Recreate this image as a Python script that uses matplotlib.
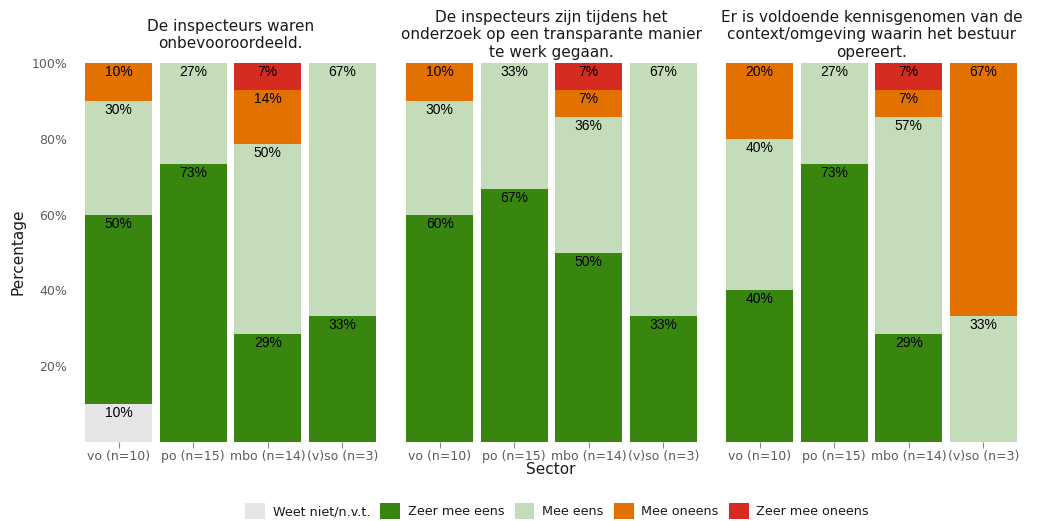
import matplotlib
matplotlib.use('Agg')
import matplotlib.pyplot as plt
from matplotlib.patches import Patch
import numpy as np

# ── Data ───────────────────────────────────────────────────────
sectors = ['vo (n=10)', 'po (n=15)', 'mbo (n=14)', '(v)so (n=3)']
answers = ['Weet niet/n.v.t.', 'Zeer mee eens', 'Mee eens', 'Mee oneens', 'Zeer mee oneens']
colors = ['#e5e5e5', '#388610', '#c4dcba', '#e37100', '#d62b20']

titles = [
    'De inspecteurs waren\nonbevooroordeeld.',
    'De inspecteurs zijn tijdens het\nonderzoek op een transparante manier\nte werk gegaan.',
    'Er is voldoende kennisgenomen van de\ncontext/omgeving waarin het bestuur\nopereert.',
]

# percentages per answer (rows) x sector (cols)
q1 = [[10, 0, 0, 0],
      [50, 73.3, 28.6, 33.3],
      [30, 26.7, 50, 66.7],
      [10, 0, 14.3, 0],
      [0, 0, 7.1, 0]]
q2 = [[0, 0, 0, 0],
      [60, 66.7, 50, 33.3],
      [30, 33.3, 35.7, 66.7],
      [10, 0, 7.1, 0],
      [0, 0, 7.1, 0]]
q3 = [[0, 0, 0, 0],
      [40, 73.3, 28.6, 0],
      [40, 26.7, 57.1, 33.3],
      [20, 0, 7.1, 66.7],
      [0, 0, 7.1, 0]]
panels = [q1, q2, q3]

W, H = 1040, 521
fig = plt.figure(figsize=(W / 100, H / 100), dpi=100)

tick_col = '#5c5c5c'
panel_lefts = [74, 395, 715]
panel_w = 313
bottom_px, top_px = 442, 63

x = np.arange(len(sectors))
for k, (data, title) in enumerate(zip(panels, titles)):
    ax = fig.add_axes([panel_lefts[k] / W, 1 - bottom_px / H,
                       panel_w / W, (bottom_px - top_px) / H])
    base = np.zeros(len(sectors))
    for vals, col in zip(data, colors):
        vals = np.array(vals, dtype=float)
        ax.bar(x, vals, bottom=base, width=0.9, color=col, linewidth=0)
        for xi, (b, v) in enumerate(zip(base, vals)):
            if v > 0:
                ax.annotate(f'{v:.0f}%', (xi, b + v), xytext=(0, -6.5),
                            textcoords='offset points', ha='center', va='center',
                            fontsize=10, family='Liberation Sans', color='black')
        base += vals
    ax.set_xlim(-0.6, 3.6)
    ax.set_ylim(0, 100)
    ax.set_xticks(x)
    ax.set_xticklabels(sectors, fontsize=9, color=tick_col)
    ax.tick_params(axis='x', length=4, color='#888888', pad=2)
    if k == 0:
        ax.set_yticks([20, 40, 60, 80, 100])
        ax.set_yticklabels(['20%', '40%', '60%', '80%', '100%'], fontsize=9, color=tick_col)
        ax.tick_params(axis='y', length=0, pad=5)
    else:
        ax.set_yticks([])
    for s in ax.spines.values():
        s.set_visible(False)
    # strip title, vertically centred in the strip like a facet label
    fig.text((panel_lefts[k] + panel_w / 2) / W, 1 - 35 / H, title,
             ha='center', va='center', multialignment='center',
             fontsize=11, color='#1a1a1a', linespacing=1.2)

fig.text(18 / W, 1 - 252 / H, 'Percentage', rotation=90, ha='center', va='center',
         fontsize=11, color='#1a1a1a')
fig.text(551 / W, 1 - 469 / H, 'Sector', ha='center', va='center',
         fontsize=11, color='#1a1a1a')

handles = [Patch(facecolor=c, edgecolor='none') for c in colors]
fig.legend(handles, answers, loc='center', bbox_to_anchor=(557 / W, 1 - 511 / H),
           ncol=5, frameon=False, fontsize=9.2, handlelength=1.55, handleheight=1.55,
           handletextpad=0.6, columnspacing=0.8, labelcolor='#1a1a1a')

fig.savefig('out.png', dpi=100)
